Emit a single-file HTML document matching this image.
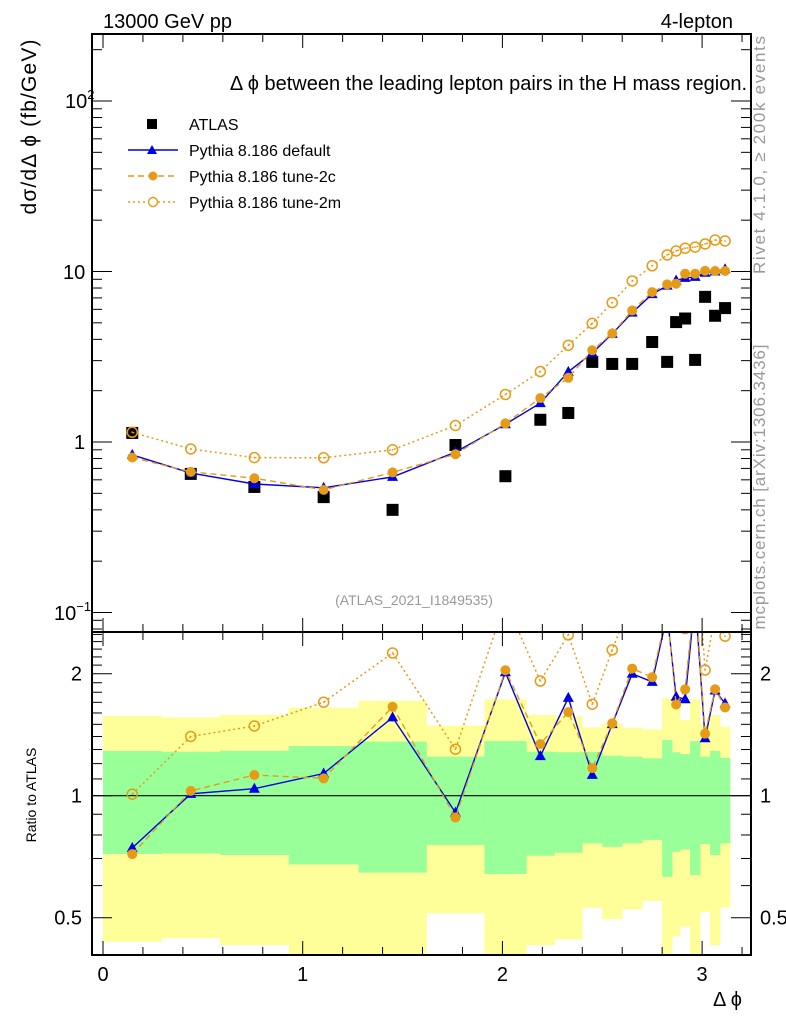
<!DOCTYPE html>
<html><head><meta charset="utf-8"><style>
body{margin:0;background:#fff;}
svg{display:block;font-family:"Liberation Sans",sans-serif;}
</style></head><body>
<svg id="c" width="786" height="1024" viewBox="0 0 786 1024" xmlns="http://www.w3.org/2000/svg"></svg>
<script>
const edges=[0,0.293,0.586,0.93,1.28,1.62,1.91,2.12,2.26,2.40,2.50,2.60,2.70,2.80,2.85,2.89,2.94,2.99,3.04,3.09,3.14];
const atlas=[1.13,0.65,0.545,0.475,0.40,0.96,0.63,1.35,1.48,2.95,2.87,2.87,3.86,2.95,5.05,5.3,3.03,7.1,5.5,6.1];
const pyDefault=[0.84,0.657,0.567,0.539,0.624,0.872,1.27,1.69,2.58,3.32,4.31,5.74,7.37,8.26,8.86,9.17,9.30,9.84,10.0,10.3];
const py2c=[0.811,0.668,0.613,0.524,0.663,0.848,1.285,1.81,2.38,3.45,4.33,5.91,7.57,8.4,8.48,9.7,9.7,10.1,10.07,10.07];
const py2m=[1.14,0.91,0.81,0.808,0.90,1.25,1.9,2.59,3.69,4.96,6.57,8.8,10.8,12.5,13.2,13.7,13.9,14.5,15.3,15.1];
const bandYellowHi=[1.573,1.561,1.582,1.649,1.716,1.489,1.729,1.582,1.573,1.475,1.509,1.471,1.458,1.739,1.643,1.537,1.729,1.509,1.582,1.48];
const bandGreenHi=[1.289,1.284,1.291,1.326,1.36,1.248,1.364,1.284,1.28,1.282,1.255,1.248,1.237,1.372,1.28,1.267,1.364,1.248,1.289,1.24];
const bandGreenLo=[0.718,0.721,0.714,0.677,0.646,0.756,0.641,0.711,0.723,0.763,0.748,0.763,0.778,0.631,0.727,0.737,0.637,0.76,0.714,0.763];
const bandYellowLo=[0.436,0.445,0.428,0.35,0.35,0.513,0.35,0.428,0.442,0.529,0.496,0.524,0.55,0.35,0.45,0.475,0.35,0.517,0.428,0.53];
const xTicks=[0,1,2,3];
const ratioTicks=[0.5,1,2];

const NS="http://www.w3.org/2000/svg";
const svg=document.getElementById('c');
const L=92,R=751,T=34,MB=632,RB=955;
const X=v=>103+v*199.7;
const Y=v=>442-Math.log10(v)*170.5;
const YR=r=>795.7-Math.log2(r)*122;
const ORANGE="#e69b17",BLUE="#0000e6";
function mk(tag,attrs,parent){const e=document.createElementNS(NS,tag);for(const k in attrs)e.setAttribute(k,attrs[k]);(parent||svg).appendChild(e);return e;}
function txt(s,x,y,size,attrs,parent){const e=mk('text',Object.assign({x:x,y:y,'font-size':size},attrs||{}),parent);e.textContent=s;return e;}

const defs=mk('defs',{});
const cp1=mk('clipPath',{id:'cm'},defs);mk('rect',{x:L,y:T,width:R-L,height:MB-T},cp1);
const cp2=mk('clipPath',{id:'cr'},defs);mk('rect',{x:L,y:MB,width:R-L,height:RB-MB},cp2);

const gBands=mk('g',{'clip-path':'url(#cr)'});


for(let i=0;i<atlas.length;i++){
  const x0=X(edges[i]),x1=X(edges[i+1]);
  const y=mk('rect',{x:x0,y:YR(bandYellowHi[i]),width:x1-x0+0.3,height:YR(bandYellowLo[i])-YR(bandYellowHi[i]),fill:'#ffff99'},gBands);
  
  
}
for(let i=0;i<atlas.length;i++){
  const x0=X(edges[i]),x1=X(edges[i+1]);
  const g=mk('rect',{x:x0,y:YR(bandGreenHi[i]),width:x1-x0+0.3,height:YR(bandGreenLo[i])-YR(bandGreenHi[i]),fill:'#99ff99'},gBands);
  
  
}
const one=mk('line',{x1:L,x2:R,y1:YR(1),y2:YR(1),stroke:'#000','stroke-width':1.2});



const cents=atlas.map((_,i)=>(edges[i]+edges[i+1])/2);

function series(vals,yf,clip,color,dash,marker,name){
  const g=mk('g',{'clip-path':clip});
  
  
  const pts=vals.map((v,i)=>X(cents[i]).toFixed(1)+','+yf(v).toFixed(1)).join(' ');
  mk('polyline',{points:pts,fill:'none',stroke:color,'stroke-width':dash==='dot'?1.5:1.4,'stroke-dasharray':dash==='dash'?'6,4':dash==='dot'?'2,3':'none'},g);
  vals.forEach((v,i)=>{
    const x=X(cents[i]),y=yf(v);
    let m;
    if(marker==='tri')m=mk('polygon',{points:`${x},${y-6} ${x-5.5},${y+4} ${x+5.5},${y+4}`,fill:color},g);
    else if(marker==='dot')m=mk('circle',{cx:x,cy:y,r:5,fill:color},g);
    else if(marker==='open'){m=mk('circle',{cx:x,cy:y,r:5,fill:'none',stroke:color,'stroke-width':1.5},g);mk('circle',{cx:x,cy:y,r:0.9,fill:color},g);}
    else m=mk('rect',{x:x-6,y:y-6,width:12,height:12,fill:'#000'},g);
    
    
  });
}
series(atlas,Y,'url(#cm)','none','none','sq','atlas-data');
series(pyDefault,Y,'url(#cm)',BLUE,'solid','tri','pythia-default');
series(py2c,Y,'url(#cm)',ORANGE,'dash','dot','pythia-tune-2c');
series(py2m,Y,'url(#cm)',ORANGE,'dot','open','pythia-tune-2m');
series(pyDefault.map((v,i)=>v/atlas[i]),YR,'url(#cr)',BLUE,'solid','tri','ratio-default');
series(py2c.map((v,i)=>v/atlas[i]),YR,'url(#cr)',ORANGE,'dash','dot','ratio-tune-2c');
series(py2m.map((v,i)=>v/atlas[i]),YR,'url(#cr)',ORANGE,'dot','open','ratio-tune-2m');

const f1=mk('rect',{x:L,y:T,width:R-L,height:MB-T,fill:'none',stroke:'#000','stroke-width':2});


const f2=mk('rect',{x:L,y:MB,width:R-L,height:RB-MB,fill:'none',stroke:'#000','stroke-width':2});



const gt=mk('g',{stroke:'#000','stroke-width':1});


for(let v=0;v<=3.21;v+=0.1){
  const maj=Math.abs(v-Math.round(v))<1e-6, mid=Math.abs(v*5-Math.round(v*5))<1e-6;
  const len=maj?14:(mid?8:0);
  if(!len)continue;
  const x=X(v);
  [[T,1],[MB,-1],[MB,1],[RB,-1]].forEach(([y,d])=>mk('line',{x1:x,x2:x,y1:y,y2:y+d*len},gt));
}
for(let e=-2;e<=2;e++)for(let k=1;k<10;k++){
  const v=k*Math.pow(10,e);const y=Y(v);if(y<T||y>MB)continue;
  const len=k===1?20:10;
  mk('line',{x1:L,x2:L+len,y1:y,y2:y},gt);mk('line',{x1:R,x2:R-len,y1:y,y2:y},gt);
}
[0.4,0.5,0.6,0.7,0.8,0.9,1,1.1,1.2,1.3,1.4,1.5,1.6,1.7,1.8,1.9,2,2.1,2.2,2.3,2.4,2.5].forEach(v=>{
  const y=YR(v);if(y<MB||y>RB)return;
  const len=(v===0.5||v===1||v===2)?20:10;
  mk('line',{x1:L,x2:L+len,y1:y,y2:y},gt);mk('line',{x1:R,x2:R-len,y1:y,y2:y},gt);
});

xTicks.forEach(v=>{const t=txt(String(v),X(v),981,20,{'text-anchor':'middle'});});
ratioTicks.forEach(v=>{
  const a=txt(String(v),82,YR(v)+7,20,{'text-anchor':'end'});
  const b=txt(String(v),760,YR(v)+7,20,{});
});
</script>
<svg width="786" height="1024" style="position:absolute;left:0;top:0" font-family="Liberation Sans, sans-serif">
<text x="65" y="108" font-size="20">10<tspan font-size="13" dy="-9">2</tspan></text>
<text x="63" y="279" font-size="20">10</text>
<text x="74" y="449" font-size="20">1</text>
<text x="54" y="620" font-size="20">10<tspan font-size="13" dy="-9">−1</tspan></text>
<text x="103" y="28" font-size="20">13000 GeV pp</text>
<text x="733" y="28" font-size="20" text-anchor="end">4-lepton</text>
<text x="747" y="90" font-size="20" text-anchor="end">Δ ϕ between the leading lepton pairs in the H mass region.</text>
<g font-size="16">
<rect x="147" y="119" width="10" height="10" fill="#000"/>
<text x="189" y="130">ATLAS</text>
<line x1="128" x2="178" y1="150" y2="150" stroke="#0000e6" stroke-width="1.4"/>
<polygon points="152,145 147,154 157,154" fill="#0000e6"/>
<text x="189" y="156">Pythia 8.186 default</text>
<line x1="128" x2="178" y1="176" y2="176" stroke="#e69b17" stroke-width="1.4" stroke-dasharray="6,4"/>
<circle cx="153" cy="176" r="4.5" fill="#e69b17"/>
<text x="189" y="182">Pythia 8.186 tune-2c</text>
<line x1="128" x2="178" y1="202" y2="202" stroke="#e69b17" stroke-width="1.4" stroke-dasharray="2,3"/>
<circle cx="153" cy="202" r="4.5" fill="#fff" stroke="#e69b17" stroke-width="1.4"/>
<text x="189" y="208">Pythia 8.186 tune-2m</text>
</g>
<text x="414" y="605" font-size="14" fill="#999" text-anchor="middle">(ATLAS_2021_I1849535)</text>
<text transform="translate(36,127) rotate(-90)" font-size="21" text-anchor="middle" textLength="175">dσ/dΔ ϕ (fb/GeV)</text>
<text transform="translate(36,795) rotate(-90)" font-size="14" text-anchor="middle">Ratio to ATLAS</text>
<text x="742" y="1006" font-size="20" text-anchor="end">Δ ϕ</text>
<text transform="translate(765,155) rotate(-90)" font-size="17" fill="#999" text-anchor="middle" textLength="238">Rivet 4.1.0, ≥ 200k events</text>
<text transform="translate(765,487) rotate(-90)" font-size="17" fill="#999" text-anchor="middle" textLength="285">mcplots.cern.ch [arXiv:1306.3436]</text>
</svg>
</body></html>
